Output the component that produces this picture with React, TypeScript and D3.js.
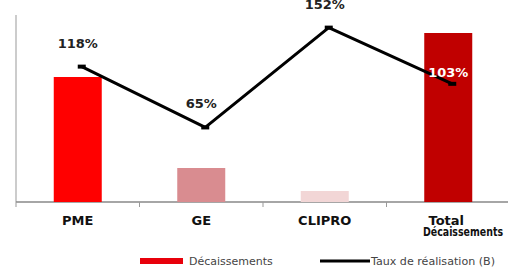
import React from "react";
import * as d3 from "d3";

const categories = ["PME", "GE", "CLIPRO", "Total Décaissements"];
const decaissements = [125, 34, 11, 169];
const tauxRealisation = [118, 65, 152, 103];
const barColors = ["#ff0000", "#d98c90", "#f2d6d6", "#c00000"];

const width = 508;
const height = 269;
const left = 16;
const right = 510;
const top = 15;
const baseline = 202;

const App: React.FC = () => {
    const x = d3.scaleBand().domain(categories).range([left, right]).paddingInner(0).paddingOuter(0);
    const yBar = d3.scaleLinear().domain([0, 187]).range([baseline, top]);
    const yRate = d3.scaleLinear().domain([0, 163]).range([baseline, top]);
    const barW = 48;
    const cx = (c: string) => (x(c) || 0) + x.bandwidth() / 2;

    const line = d3
        .line<number>()
        .x((_, i) => cx(categories[i]) + 4)
        .y((d) => yRate(d));

    const ticks = [left, ...categories.slice(1).map((c) => x(c) || 0)];

    return (
        <svg width={width} height={height} style={{position: "absolute", left: 0, top: 0}}
             fontFamily="DejaVu Sans">
            <rect width={width} height={height} fill="#fff"/>
            {/* axes */}
            <line x1={left} x2={left} y1={top} y2={baseline} stroke="#999" strokeWidth={1}/>
            <line x1={left} x2={width} y1={baseline} y2={baseline} stroke="#888" strokeWidth={1.5}/>
            {ticks.map((t, i) => (
                <line key={i} x1={t} x2={t} y1={baseline} y2={baseline + 5} stroke="#999"/>
            ))}
            {/* bars */}
            {decaissements.map((v, i) => (
                <rect key={i} x={cx(categories[i]) - barW / 2} y={yBar(v)} width={barW}
                      height={baseline - yBar(v)} fill={barColors[i]}/>
            ))}
            {/* line */}
            <path d={line(tauxRealisation) || ""} fill="none" stroke="#000" strokeWidth={3}
                  strokeLinejoin="round"/>
            {tauxRealisation.map((v, i) => (
                <rect key={i} x={cx(categories[i])} y={yRate(v) - 2} width={8} height={4} fill="#000"/>
            ))}
            {/* value labels */}
            {tauxRealisation.map((v, i) => {
                const last = i === categories.length - 1;
                return (
                    <text key={i} x={cx(categories[i])} y={last ? yRate(v) - 7 : yRate(v) - 19}
                          textAnchor="middle" fontSize={13} fontWeight="bold"
                          fill={last ? "#fff" : "#222"}>
                        {v}%
                    </text>
                );
            })}
            {/* category labels */}
            {categories.slice(0, 3).map((c) => (
                <text key={c} x={cx(c)} y={225} textAnchor="middle" fontSize={13} fontWeight="bold" fill="#111">
                    {c}
                </text>
            ))}
            <text x={cx(categories[3]) - 2} y={225} textAnchor="middle" fontSize={13} fontWeight="bold" fill="#111">
                Total
            </text>
            <text x={423} y={236} fontSize={12} fontWeight="bold" fill="#111" textLength={80}
                  lengthAdjust="spacingAndGlyphs">
                Décaissements
            </text>
            {/* legend */}
            <rect x={140} y={258} width={43} height={6} fill="#e8000b"/>
            <text x={189} y={265} fontSize={11} fill="#444">Décaissements</text>
            <line x1={320} x2={370} y1={261} y2={261} stroke="#000" strokeWidth={3}/>
            <text x={371} y={265} fontSize={11} fill="#444" textLength={124} lengthAdjust="spacingAndGlyphs">
                Taux de réalisation (B)
            </text>
        </svg>
    );
};

export default App;
